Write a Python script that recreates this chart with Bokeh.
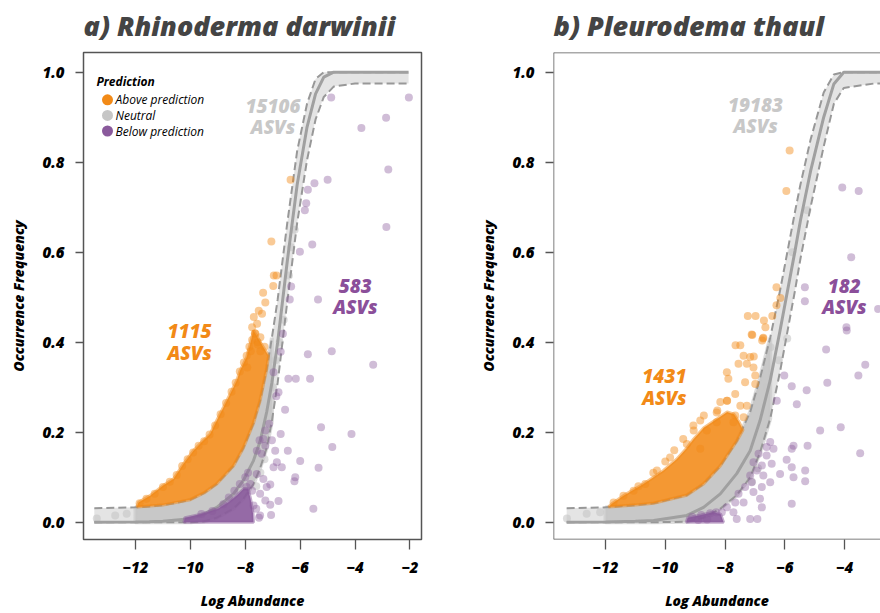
from bokeh.plotting import figure
from bokeh.layouts import row
from bokeh.models import Label, Span, FixedTicker, PrintfTickFormatter
from bokeh.embed import file_html
from bokeh.resources import INLINE

FONT = "Open Sans"
HEAVY = "Open Sans ExtraBold, Open Sans"

# ---------------- panel a) Rhinoderma darwinii ----------------
fit_x_a = [-13.5, -12.0, -11.5, -11.0, -10.5, -10.0, -9.5, -9.04, -8.43, -8.07, -7.70, -7.46, -7.22,
           -7.03, -6.82, -6.47, -6.11, -5.75, -5.44, -5.14, -4.78, -4.0, -3.0, -2.05]
fit_y_a = [0.0, 0.0005, 0.001, 0.002, 0.005, 0.008, 0.018, 0.033, 0.063, 0.093, 0.137, 0.18, 0.245,
           0.31, 0.40, 0.58, 0.75, 0.878, 0.952, 0.989, 1.0, 1.0, 1.0, 1.0]
upr_y_a = [0.031, 0.033, 0.035, 0.038, 0.043, 0.05, 0.065, 0.085, 0.125, 0.165, 0.22, 0.27, 0.34,
           0.41, 0.495, 0.665, 0.825, 0.93, 0.985, 1.0, 1.0, 1.0, 1.0, 1.0]
lwr_y_a = [0.0, 0.0, 0.0, 0.0, 0.0, 0.0, 0.002, 0.010, 0.030, 0.052, 0.085, 0.12, 0.165,
           0.225, 0.31, 0.49, 0.665, 0.805, 0.895, 0.945, 0.968, 0.975, 0.975, 0.975]

ora_cloud_x_a = [-11.95, -11.89, -11.47, -10.98, -10.62, -10.25, -9.89, -9.52, -9.28, -9.04, -8.79, -8.55,
                 -8.31, -8.19, -7.95, -7.82, -7.70, -7.45, -7.15,
                 -7.22, -7.46, -7.70, -8.07, -8.43, -9.04, -9.5, -10.0, -11.0, -11.95]
ora_cloud_y_a = [0.034, 0.044, 0.059, 0.082, 0.096, 0.130, 0.159, 0.182, 0.196, 0.226, 0.256, 0.285,
                 0.315, 0.337, 0.367, 0.396, 0.426, 0.40, 0.37,
                 0.34, 0.27, 0.22, 0.165, 0.125, 0.085, 0.065, 0.05, 0.038, 0.034]
pur_cloud_x_a = [-10.24, -10.2, -9.6, -9.0, -8.6, -8.3, -8.05, -7.9, -7.8, -7.72, -7.7]
pur_cloud_y_a = [0.0, 0.01, 0.018, 0.03, 0.045, 0.06, 0.075, 0.075, 0.05, 0.02, 0.0]

ora_x_a = [-11.85, -11.6, -11.3, -11.0, -10.75, -10.5, -10.3, -10.1, -9.9, -9.7, -9.5, -9.3, -9.1, -8.9,
           -8.7, -8.5, -8.35, -8.2, -8.05, -7.95, -7.85, -7.75, -7.65, -7.55, -7.45,
           -6.35, -7.05, -6.96, -6.86, -6.98, -7.35, -7.27, -7.51, -7.39, -7.69, -7.57, -7.75, -7.63,
           -7.45, -7.93, -7.8, -7.55, -7.3]
ora_y_a = [0.042, 0.052, 0.063, 0.078, 0.09, 0.105, 0.125, 0.14, 0.155, 0.17, 0.18, 0.195, 0.215, 0.24,
           0.265, 0.29, 0.31, 0.335, 0.355, 0.37, 0.39, 0.405, 0.42, 0.40, 0.38,
           0.761, 0.624, 0.548, 0.548, 0.525, 0.51, 0.488, 0.47, 0.463, 0.456, 0.441, 0.433, 0.419,
           0.411, 0.344, 0.38, 0.395, 0.39]

gry_x_a = [-13.41, -12.74, -12.32, -6.33, -6.41, -6.6, -6.75, -6.2, -6.9, -7.0, -7.3, -7.45, -7.6]
gry_y_a = [0.008, 0.015, 0.019, 0.611, 0.548, 0.45, 0.40, 0.65, 0.36, 0.30, 0.14, 0.11, 0.08]

pur_x_a = [-6.63, -6.71, -5.72, -4.85, -6.97, -6.43, -6.16, -5.64, -6.79, -6.87, -6.55, -5.24, -7.13,
           -7.27, -6.71, -4.83, -7.48, -7.03, -7.27, -6.45, -6.91, -7.40, -6.0, -6.85, -6.97, -6.67,
           -5.33, -6.18, -6.21, -5.52, -7.09, -6.79, -7.09, -7.06, -7.46, -7.58, -7.34, -7.82, -7.22,
           -7.46, -7.70, -7.27, -7.95, -7.58, -7.34,
           -4.87, -2.04, -2.87, -3.77, -2.79, -5.0, -5.48, -5.72, -5.78, -5.83, -2.86, -5.56, -6.01,
           -6.33, -6.38, -5.35, -3.34, -4.13,
           -8.6, -8.4, -8.2, -8.0, -7.9, -7.75, -8.8, -9.2, -9.6, -7.6, -7.5]
pur_y_a = [0.419, 0.379, 0.373, 0.380, 0.333, 0.319, 0.319, 0.319, 0.289, 0.280, 0.250, 0.211, 0.219,
           0.204, 0.196, 0.167, 0.182, 0.182, 0.170, 0.159, 0.159, 0.152, 0.136, 0.133, 0.122, 0.122,
           0.121, 0.100, 0.091, 0.030, 0.084, 0.047, 0.039, 0.016, 0.015, 0.107, 0.096, 0.085, 0.078,
           0.063, 0.037, 0.048, 0.078, 0.159, 0.185,
           0.944, 0.944, 0.899, 0.876, 0.784, 0.761, 0.753, 0.739, 0.709, 0.693, 0.656, 0.617, 0.601,
           0.524, 0.495, 0.495, 0.35, 0.196,
           0.055, 0.07, 0.085, 0.1, 0.11, 0.07, 0.04, 0.025, 0.018, 0.03, 0.01]

# ---------------- panel b) Pleurodema thaul ----------------
fit_x_b = [-13.3, -12.0, -11.0, -10.39, -9.28, -8.72, -8.16, -7.61, -7.16, -6.83, -6.49, -6.16,
           -5.66, -5.48, -5.14, -4.70, -4.36, -4.03, -3.0, -2.0]
fit_y_b = [0.0, 0.0005, 0.002, 0.004, 0.015, 0.033, 0.063, 0.108, 0.159, 0.226, 0.315, 0.426,
           0.603, 0.67, 0.78, 0.90, 0.974, 1.0, 1.0, 1.0]
upr_y_b = [0.031, 0.033, 0.038, 0.042, 0.06, 0.085, 0.125, 0.18, 0.245, 0.32, 0.41, 0.515,
           0.69, 0.75, 0.85, 0.955, 0.995, 1.0, 1.0, 1.0]
lwr_y_b = [0.0, 0.0, 0.0, 0.0, 0.001, 0.01, 0.03, 0.06, 0.10, 0.155, 0.23, 0.335,
           0.515, 0.585, 0.70, 0.835, 0.93, 0.965, 0.975, 0.975]

ora_cloud_x_b = [-11.9, -11.79, -11.40, -10.73, -10.06, -9.62, -9.28, -9.05, -8.71, -8.26, -7.93, -7.7,
                 -7.55, -7.4, -7.61, -8.16, -8.72, -9.28, -10.39, -11.0, -11.9]
ora_cloud_y_b = [0.034, 0.041, 0.059, 0.085, 0.115, 0.14, 0.165, 0.185, 0.21, 0.23, 0.245, 0.24,
                 0.225, 0.205, 0.18, 0.125, 0.085, 0.06, 0.042, 0.038, 0.034]
pur_cloud_x_b = [-9.3, -9.25, -8.8, -8.4, -8.15, -8.05]
pur_cloud_y_b = [0.0, 0.01, 0.016, 0.022, 0.018, 0.0]

ora_x_b = [-5.84, -5.95, -6.28, -6.15, -6.28, -6.42, -6.70, -6.98, -7.24, -6.65, -7.09, -6.73, -7.65,
           -7.49, -7.11, -6.72, -7.94, -7.89, -7.55, -7.38, -7.16, -7.27, -7.05, -6.99, -7.33, -6.99,
           -7.66, -8.16, -7.94, -7.49, -7.27, -7.66, -7.38, -8.28, -8.28, -7.72, -8.61, -8.83, -9.06,
           -8.83, -9.28, -9.84, -10.28, -10.67, -11.06, -11.40, -11.73, -7.04, -6.76,
           -9.05, -8.71, -8.26, -7.93, -9.4, -9.7, -10.0, -10.4, -10.9]
ora_y_b = [0.826, 0.736, 0.522, 0.498, 0.482, 0.458, 0.448, 0.458, 0.458, 0.433, 0.416, 0.408, 0.393,
           0.393, 0.417, 0.410, 0.333, 0.319, 0.352, 0.370, 0.367, 0.352, 0.344, 0.326, 0.311, 0.307,
           0.285, 0.267, 0.270, 0.259, 0.259, 0.237, 0.233, 0.244, 0.222, 0.222, 0.204, 0.226, 0.215,
           0.163, 0.174, 0.144, 0.115, 0.085, 0.070, 0.059, 0.044, 0.368, 0.404,
           0.204, 0.237, 0.248, 0.27, 0.185, 0.16, 0.135, 0.11, 0.08]

gry_x_b = [-13.29, -12.63, -12.18, -5.75, -5.25, -6.48, -5.92, -6.2, -6.6, -6.9, -7.1]
gry_y_b = [0.008, 0.019, 0.022, 0.60, 0.693, 0.389, 0.408, 0.36, 0.30, 0.12, 0.09]

pur_x_b = [-4.62, -3.31, -3.54, -4.58, -5.27, -5.77, -6.02, -5.60, -6.27, -3.93, -4.13, -4.82, -3.48,
           -5.24, -5.71, -5.77, -6.49, -6.38, -6.61, -5.94, -6.61, -6.88, -6.77, -6.44, -6.16, -5.77,
           -5.32, -5.32, -5.71, -7.05, -6.94, -7.16, -6.72, -7.11, -6.49, -7.33, -6.77, -7.05, -7.55,
           -6.83, -7.66, -7.38, -6.77, -5.77, -7.94, -7.72, -7.61, -7.16, -6.92, -8.11,
           -4.08, -3.53, -3.78, -5.33, -5.33, -2.88, -3.94,
           -9.1, -8.8, -8.5, -8.3, -8.6, -8.9]
pur_y_b = [0.384, 0.35, 0.326, 0.310, 0.293, 0.302, 0.326, 0.262, 0.270, 0.426, 0.211, 0.204, 0.153,
           0.170, 0.170, 0.163, 0.178, 0.163, 0.167, 0.139, 0.148, 0.152, 0.126, 0.130, 0.107, 0.122,
           0.115, 0.091, 0.100, 0.133, 0.115, 0.104, 0.104, 0.089, 0.089, 0.078, 0.078, 0.067, 0.063,
           0.052, 0.044, 0.044, 0.033, 0.041, 0.033, 0.022, 0.007, 0.007, 0.007, 0.022,
           0.744, 0.736, 0.589, 0.522, 0.491, 0.474, 0.433,
           0.012, 0.016, 0.02, 0.022, 0.006, 0.005]

x_ticks = [-12, -10, -8, -6, -4, -2]
y_ticks = [0.0, 0.2, 0.4, 0.6, 0.8, 1.0]

ORANGE = "#F28A17"
PURPLE = "#8A5A9C"
GREY = "#C6C6C6"
BAND = "#E4E4E4"
LINE = "#A0A0A0"
BOX = "#555555"

Y0, Y1 = -0.0384, 1.0438
FRAME_H = 487


def make_panel(title, xr, left, right, fx, fy, uy, ly, gcut, ocx, ocy, pcx, pcy,
               ox, oy, gx, gy, px, py, box):
    p = figure(width=440, height=613, x_range=xr, y_range=(Y0, Y1),
               min_border_left=left, min_border_right=right, min_border_top=52, min_border_bottom=74,
               output_backend="svg", toolbar_location=None, background_fill_color="white",
               border_fill_color="white")
    p.xgrid.visible = False
    p.ygrid.visible = False
    p.title.text = title
    p.title.text_font = HEAVY
    p.title.text_font_style = "bold italic"
    p.title.text_font_size = "27px"
    p.title.vertical_align = "top"
    p.title.align = "left"
    p.title.offset = 0
    p.title.standoff = 13
    for ax in (p.xaxis[0], p.yaxis[0]):
        ax.major_label_text_font = HEAVY
        ax.major_label_text_font_style = "bold italic"
        ax.major_label_text_font_size = "15px"
        ax.major_label_text_color = "black"
        ax.axis_label_text_font = HEAVY
        ax.axis_label_text_font_style = "bold italic"
        ax.axis_label_text_font_size = "14px"
        ax.axis_label_text_color = "black"
        ax.minor_tick_line_color = None
        ax.major_tick_in = 0
        ax.major_tick_line_color = BOX
        ax.major_tick_line_width = 1.3
        ax.axis_line_color = None
    p.xaxis[0].ticker = FixedTicker(ticks=x_ticks)
    p.yaxis[0].ticker = FixedTicker(ticks=y_ticks)
    p.yaxis[0].formatter = PrintfTickFormatter(format="%.1f")
    p.xaxis[0].major_tick_out = 10
    p.xaxis[0].major_label_standoff = 12
    p.xaxis[0].axis_label = "Log Abundance"
    p.xaxis[0].axis_label_standoff = 15
    p.yaxis[0].major_tick_out = 8
    p.yaxis[0].major_label_standoff = 11
    p.yaxis[0].axis_label = "Occurrence Frequency"
    p.yaxis[0].axis_label_standoff = 12
    if box:
        p.outline_line_color = BOX
        p.outline_line_width = 1.5
    else:
        p.outline_line_color = None
        p.add_layout(Span(location=Y1, dimension="width", line_color=BOX, line_width=1.5))
        p.add_layout(Span(location=Y0, dimension="width", line_color=BOX, line_width=1.5))
        p.add_layout(Span(location=xr[0], dimension="height", line_color=BOX, line_width=1.5))

    # confidence band
    p.varea(x=fx, y1=ly, y2=uy, fill_color=BAND)
    # dense neutral cloud
    idx = [i for i, x in enumerate(fx) if gcut[0] <= x <= gcut[1]]
    gxs = [fx[i] for i in idx] + [fx[i] for i in reversed(idx)]
    gys = [uy[i] for i in idx] + [ly[i] for i in reversed(idx)]
    p.patch(gxs, gys, fill_color=GREY, fill_alpha=0.95, line_color=GREY, line_alpha=0.6, line_width=4)
    p.scatter(gx, gy, size=8, fill_color=GREY, fill_alpha=0.6, line_color=None)
    # neutral model lines
    p.line(fx, uy, line_color="#989898", line_width=2, line_dash="8 4")
    p.line(fx, ly, line_color="#989898", line_width=2, line_dash="8 4")
    p.line(fx, fy, line_color=LINE, line_width=3)
    # above / below prediction
    p.patch(ocx, ocy, fill_color=ORANGE, fill_alpha=0.88, line_color=ORANGE, line_alpha=0.5, line_width=3)
    p.scatter(ox, oy, size=8, fill_color=ORANGE, fill_alpha=0.45, line_color=None)
    p.patch(pcx, pcy, fill_color=PURPLE, fill_alpha=0.9, line_color=PURPLE, line_alpha=0.5, line_width=3)
    p.scatter(px, py, size=8, fill_color=PURPLE, fill_alpha=0.4, line_color=None)
    return p


def count_label(p, x, y, txt, color):
    for dy, t in ((0.0, txt), (-0.047, "ASVs")):
        p.add_layout(Label(x=x, y=y + dy, text=t, text_font=HEAVY, text_font_style="bold italic",
                           text_font_size="19px", text_color=color, text_align="center",
                           text_baseline="middle"))


XA = (-13.894, -1.58)
XB = (-13.74, -2.80)

pa = make_panel("a) Rhinoderma darwinii", XA, 83, 19, fit_x_a, fit_y_a, upr_y_a, lwr_y_a, (-12.1, -7.0),
                ora_cloud_x_a, ora_cloud_y_a, pur_cloud_x_a, pur_cloud_y_a,
                ora_x_a, ora_y_a, gry_x_a, gry_y_a, pur_x_a, pur_y_a, True)
pb = make_panel("b) Pleurodema thaul", XB, 113, 0, fit_x_b, fit_y_b, upr_y_b, lwr_y_b, (-12.1, -6.4),
                ora_cloud_x_b, ora_cloud_y_b, pur_cloud_x_b, pur_cloud_y_b,
                ora_x_b, ora_y_b, gry_x_b, gry_y_b, pur_x_b, pur_y_b, False)

count_label(pa, -6.99, 0.926, "15106", "#C8C8C8")
count_label(pa, -10.03, 0.424, "1115", ORANGE)
count_label(pa, -3.99, 0.526, "583", "#8B4F9A")
count_label(pb, -6.98, 0.927, "19183", "#C8C8C8")
count_label(pb, -10.03, 0.324, "1431", ORANGE)
count_label(pb, -4.01, 0.525, "182", "#8B4F9A")


# legend (panel a), placed by pixel position inside the frame
def sx(px):
    return XA[0] + (px - 83) * (XA[1] - XA[0]) / 338


def sy(py):
    return Y0 + (539 - py) * (Y1 - Y0) / FRAME_H


legend_items = [("Above prediction", ORANGE), ("Neutral", GREY), ("Below prediction", PURPLE)]
pa.add_layout(Label(x=sx(96), y=sy(80.5), text="Prediction", text_font=FONT,
                    text_font_style="bold italic", text_font_size="12px", text_color="black",
                    text_baseline="middle"))
for i, (name, col) in enumerate(legend_items):
    yy = 99.3 + i * 15.6
    pa.scatter([sx(107)], [sy(yy)], size=11, fill_color=col, line_color=None)
    pa.add_layout(Label(x=sx(115), y=sy(yy), text=name, text_font=FONT, text_font_style="italic",
                        text_font_size="12px", text_color="black", text_baseline="middle"))

layout = row(pa, pb)
open("out.html", "w").write(file_html(layout, INLINE))
